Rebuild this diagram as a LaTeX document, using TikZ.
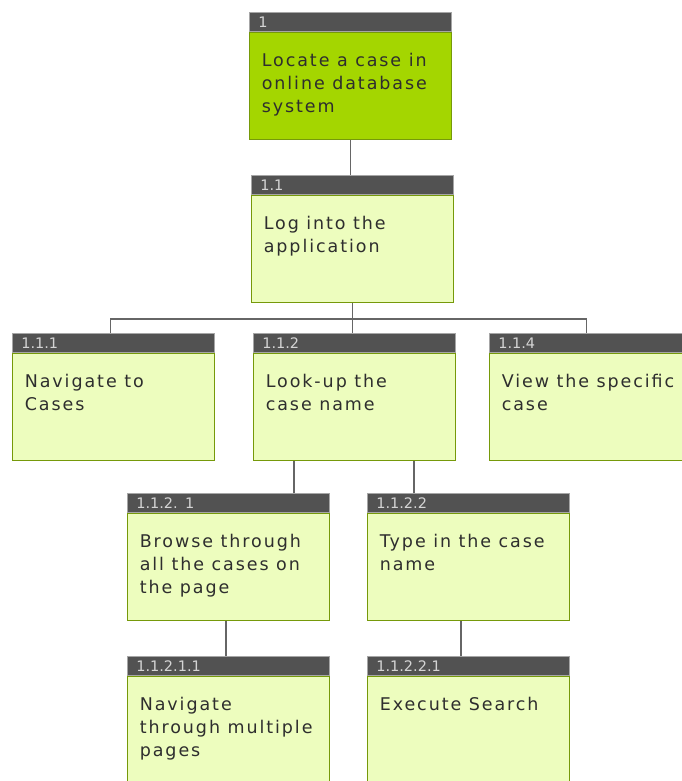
\documentclass[tikz,border=0pt]{standalone}
\usepackage{fontspec}
\setmainfont{DejaVu Sans}
\newfontfamily\taskfont[LetterSpace=11]{DejaVu Sans}
\usetikzlibrary{positioning}

\definecolor{headgray}{HTML}{525252}
\definecolor{headtext}{HTML}{D4D4D4}
\definecolor{bodyfill}{HTML}{EDFDBE}
\definecolor{topfill}{HTML}{A4D600}
\definecolor{boxline}{HTML}{76990A}
\definecolor{wiregray}{HTML}{666666}
\definecolor{textgray}{HTML}{2E2E2E}

\begin{document}
\begin{tikzpicture}[x=1pt, y=-1pt,
        taskhead/.style={anchor=north west, minimum width=202pt, minimum height=19pt,
            fill=headgray, draw=gray!70, line width=0.6pt, text=headtext,
            font=\fontsize{14.5}{15}\selectfont, text width=184pt, align=left, inner xsep=9pt},
        taskbody/.style={minimum width=202pt, minimum height=107pt,
            fill=bodyfill, draw=boxline, line width=1.4pt},
        topbody/.style={taskbody, fill=topfill},
        tasktext/.style={anchor=north west, align=left, inner sep=0pt, text=textgray,
            font=\taskfont\fontsize{17.5}{23}\selectfont},
        wire/.style={draw=wiregray, line width=1.4pt}
    ]
    \useasboundingbox[fill=white] (0,0) rectangle (681,781);

    \node[taskhead] (h1) at (249,12) {1};
    \node[topbody, below=0pt of h1] (b1) {};
    \node[tasktext] (t1) at ([shift={(13,21)}]b1.north west) {Locate a case in\\online database\\system};

    \node[taskhead] (h11) at (251,175) {1.1};
    \node[taskbody, below=0pt of h11] (b11) {};
    \node[tasktext] (t11) at ([shift={(13,21)}]b11.north west) {Log into the\\application};

    \node[taskhead] (h111) at (12,333) {1.1.1};
    \node[taskbody, below=0pt of h111] (b111) {};
    \node[tasktext] (t111) at ([shift={(13,21)}]b111.north west) {Navigate to\\Cases};

    \node[taskhead] (h112) at (253,333) {1.1.2};
    \node[taskbody, below=0pt of h112] (b112) {};
    \node[tasktext] (t112) at ([shift={(13,21)}]b112.north west) {Look-up the\\case name};

    \node[taskhead] (h114) at (489,333) {1.1.4};
    \node[taskbody, below=0pt of h114] (b114) {};
    \node[tasktext] (t114) at ([shift={(13,21)}]b114.north west) {View the specific\\case};

    \node[taskhead] (h1121) at (127,493) {1.1.2. 1};
    \node[taskbody, below=0pt of h1121] (b1121) {};
    \node[tasktext] (t1121) at ([shift={(13,21)}]b1121.north west) {Browse through\\all the cases on\\the page};

    \node[taskhead] (h1122) at (367,493) {1.1.2.2};
    \node[taskbody, below=0pt of h1122] (b1122) {};
    \node[tasktext] (t1122) at ([shift={(13,21)}]b1122.north west) {Type in the case\\name};

    \node[taskhead] (h11211) at (127,656) {1.1.2.1.1};
    \node[taskbody, below=0pt of h11211] (b11211) {};
    \node[tasktext] (t11211) at ([shift={(13,21)}]b11211.north west) {Navigate\\through multiple\\pages};

    \node[taskhead] (h11221) at (367,656) {1.1.2.2.1};
    \node[taskbody, below=0pt of h11221] (b11221) {};
    \node[tasktext] (t11221) at ([shift={(13,21)}]b11221.north west) {Execute Search};

    % connectors
    \draw[wire] (b1.south) -- (b1.south |- h11.north);

    \coordinate (bus) at ([shift={(0,16)}]b11.south);
    \draw[wire] (b11.south) -- (bus);
    \draw[wire] ([xshift=-3pt]h111.north) |- (bus) -| ([xshift=-4pt]h114.north);
    \draw[wire] (bus) -- (bus |- h112.north);

    \coordinate (j1) at ([shift={(167,0)}]h1121.north west);
    \coordinate (j2) at ([shift={(47,0)}]h1122.north west);
    \draw[wire] (j1) -- (j1 |- b112.south);
    \draw[wire] (j2) -- (j2 |- b112.south);

    \coordinate (j3) at ([shift={(99,0)}]h11211.north west);
    \coordinate (j4) at ([shift={(94,0)}]h11221.north west);
    \draw[wire] (j3) -- (j3 |- b1121.south);
    \draw[wire] (j4) -- (j4 |- b1122.south);
\end{tikzpicture}
\end{document}
